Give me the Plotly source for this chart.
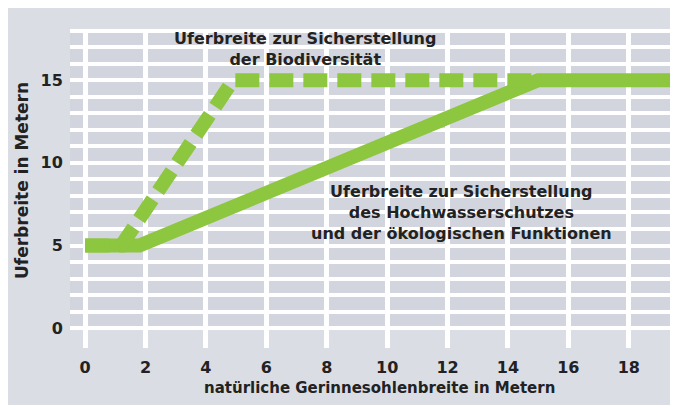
import plotly.graph_objects as go

# ---- data ----
x_ticks = [0, 2, 4, 6, 8, 10, 12, 14, 16, 18]
y_grid = list(range(0, 19))
y_label_vals = [0, 5, 10, 15]

flood_x = [0, 1.8, 15, 20]      # Hochwasserschutz / ökologische Funktionen (solid)
flood_y = [5, 5, 15, 15]
bio_x = [0, 1.2, 4.9, 15]       # Biodiversität (dashed)
bio_y = [5, 5, 15, 15]

label_bio = "Uferbreite zur Sicherstellung<br>der Biodiversität"
label_flood = "Uferbreite zur Sicherstellung<br>des Hochwasserschutzes<br>und der ökologischen Funktionen"
x_title = "natürliche Gerinnesohlenbreite in Metern"
y_title = "Uferbreite in Metern"

# ---- style ----
W, H = 670, 397
ML, MR, MT, MB = 62, 0, 21, 57
XR = [-0.5, 19.63]
YR = [-1.2, 18.1]
GREEN = "#8dc63f"
TXT = "#222222"
OUTER = "#dadde4"
CELL = "#d3d5de"
FONT = "DejaVu Sans"

pw = W - ML - MR
ph = H - MT - MB


def px_to_paper_x(px):
    return (px - ML) / pw


def px_to_paper_y(py):
    return (H - MB - py) / ph


fig = go.Figure()

fig.add_trace(go.Scatter(x=flood_x, y=flood_y, mode="lines",
                         line=dict(color=GREEN, width=14), hoverinfo="skip",
                         showlegend=False))
fig.add_trace(go.Scatter(x=bio_x, y=bio_y, mode="lines",
                         line=dict(color=GREEN, width=14, dash="24px,10px"),
                         hoverinfo="skip", showlegend=False))

shapes = [
    # grid cell area (y = 0 .. 18)
    dict(type="rect", xref="x", yref="y",
         x0=XR[0], x1=XR[1] + 1, y0=min(y_grid), y1=max(y_grid),
         fillcolor=CELL, line=dict(width=0), layer="below"),
]

annotations = [
    dict(text=label_bio, x=7.28, y=16.87, xref="x", yref="y", showarrow=False,
         xanchor="center", yanchor="middle",
         font=dict(family=FONT, size=16, color=TXT, weight="bold"), align="center"),
    dict(text=label_flood, x=12.45, y=6.97, xref="x", yref="y", showarrow=False,
         xanchor="center", yanchor="middle",
         font=dict(family=FONT, size=16, color=TXT, weight="bold"), align="center"),
    dict(text=x_title, x=px_to_paper_x(372), y=px_to_paper_y(380),
         xref="paper", yref="paper", showarrow=False,
         xanchor="center", yanchor="middle",
         font=dict(family=FONT, size=15, color=TXT, weight="bold")),
    dict(text=y_title, x=px_to_paper_x(14), y=px_to_paper_y(173),
         xref="paper", yref="paper", showarrow=False, textangle=-90,
         xanchor="center", yanchor="middle",
         font=dict(family=FONT, size=17, color=TXT, weight="bold")),
]

fig.update_layout(
    width=W, height=H,
    margin=dict(l=ML, r=MR, t=MT, b=MB, pad=0),
    paper_bgcolor=OUTER,
    plot_bgcolor=OUTER,
    shapes=shapes,
    annotations=annotations,
    showlegend=False,
    xaxis=dict(range=XR, tickmode="array", tickvals=x_ticks,
               ticktext=[str(v) for v in x_ticks],
               showgrid=True, gridcolor="white", gridwidth=5,
               zeroline=False, showline=False,
               ticks="outside", ticklen=5, tickcolor="rgba(0,0,0,0)",
               tickfont=dict(family=FONT, size=16, color=TXT, weight="bold"),
               fixedrange=True),
    yaxis=dict(range=YR, tickmode="array", tickvals=y_grid,
               ticktext=[str(v) if v in y_label_vals else "" for v in y_grid],
               showgrid=True, gridcolor="white", gridwidth=4,
               zeroline=False, showline=False,
               ticks="outside", ticklen=3, tickcolor="rgba(0,0,0,0)",
               tickfont=dict(family=FONT, size=16, color=TXT, weight="bold"),
               fixedrange=True),
)

fig.write_html("out.html", config={"displayModeBar": False})
